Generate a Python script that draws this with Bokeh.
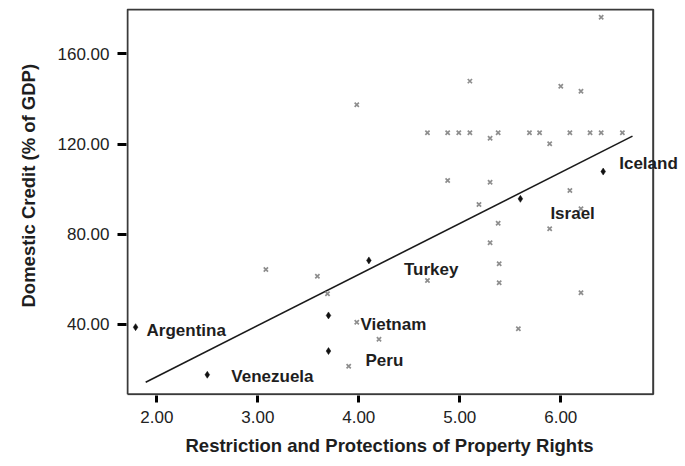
from bokeh.plotting import figure
from bokeh.models import ColumnDataSource, FixedTicker, NumeralTickFormatter, Range1d, Title
from bokeh.core.properties import value
from bokeh.embed import file_html
from bokeh.resources import INLINE

# --- data ---
# unlabeled countries (grey markers)
other_x = [3.98, 6.40, 5.10, 6.00, 6.20,
           4.68, 4.88, 4.99, 5.10, 5.38, 5.69, 5.79, 6.09, 6.29, 6.40, 6.61,
           5.30, 5.89, 4.88, 5.30, 6.09, 5.19, 5.38, 5.89, 6.20, 5.30,
           5.39, 5.39, 4.68, 6.20, 5.58, 3.08, 3.59, 3.69, 3.98, 4.20, 3.90]
other_y = [137.4, 176.2, 147.9, 145.6, 143.4,
           125.0, 125.0, 125.0, 125.0, 125.0, 125.0, 125.0, 125.0, 125.0, 125.0, 125.0,
           122.6, 120.1, 103.8, 103.1, 99.4, 93.2, 84.9, 82.4, 91.3, 76.2,
           66.9, 58.5, 59.5, 54.1, 38.1, 64.4, 61.4, 53.6, 41.0, 33.4, 21.5]

# labelled countries (black markers)
countries = ["Argentina", "Venezuela", "Vietnam", "Peru", "Turkey", "Israel", "Iceland"]
country_x = [1.79, 2.50, 3.70, 3.70, 4.10, 5.60, 6.42]
country_y = [38.8, 17.7, 44.0, 28.2, 68.4, 95.7, 107.8]

# fitted regression line end points
fit_x = [1.89, 6.71]
fit_y = [14.4, 123.5]

x_ticks = [2, 3, 4, 5, 6]
y_ticks = [40, 80, 120, 160]

x_title = "Restriction and Protections of Property Rights"
y_title = "Domestic Credit (% of GDP)"

# --- layout helpers (not data) ---
lab_dx = [11, 24, 32, 37, 35, 30, 16]
lab_dy = [3, 2, 9, 9, 9, 15, -8]
box_x0, box_x1 = 1.71, 6.915
box_y0, box_y1 = 9.0, 179.65

FONT = "Liberation Sans"

p = figure(width=684, height=466, output_backend="svg", toolbar_location=None,
           x_range=Range1d(1.70, 7.225), y_range=Range1d(8.5, 180.1),
           min_border_left=126, min_border_right=0, min_border_top=8, min_border_bottom=71)

p.grid.visible = False
p.background_fill_color = "white"
p.border_fill_color = "white"
p.outline_line_color = None

for ax in (p.xaxis[0], p.yaxis[0]):
    ax.axis_line_color = None
    ax.major_tick_in = 0
    ax.major_tick_line_width = 3
    ax.major_tick_line_color = "black"
    ax.minor_tick_line_color = None
    ax.major_label_text_font = FONT
    ax.major_label_text_font_size = "17px"
    ax.major_label_text_color = "#222222"
    ax.formatter = NumeralTickFormatter(format="0.00")

p.xaxis[0].ticker = FixedTicker(ticks=x_ticks)
p.yaxis[0].ticker = FixedTicker(ticks=y_ticks)
p.xaxis[0].major_tick_out = 7
p.yaxis[0].major_tick_out = 9
p.xaxis[0].major_label_standoff = 8
p.yaxis[0].major_label_standoff = 8

# plot box (frame) drawn as a line so that labels may spill past the right edge
p.line([box_x0, box_x1, box_x1, box_x0, box_x0], [box_y0, box_y0, box_y1, box_y1, box_y0],
       line_color="#3a3a3a", line_width=2)

# regression line
p.line(fit_x, fit_y, line_color="#1a1a1a", line_width=1.6)

# grey markers
p.scatter(other_x, other_y, marker="x", size=6, line_color="#8e8e8e", line_width=1.7)

# labelled markers
src = ColumnDataSource(dict(x=country_x, y=country_y, name=countries, dx=lab_dx, dy=lab_dy))
p.scatter("x", "y", source=src, marker="diamond", size=7, line_color="#111111",
          fill_color="#111111", line_width=0.5)
p.text("x", "y", text="name", source=src, x_offset="dx", y_offset="dy",
       text_font=value(FONT), text_font_style="bold", text_font_size="17px",
       text_color="#1e1e1e", text_align="left", text_baseline="middle")

# axis titles
p.add_layout(Title(text=x_title, align="left", offset=59, standoff=15,
                   text_font=FONT, text_font_style="bold", text_font_size="18.5px",
                   text_color="#1e1e1e"), "below")
p.add_layout(Title(text=y_title, align="left", offset=88, standoff=31,
                   text_font=FONT, text_font_style="bold", text_font_size="18.5px",
                   text_color="#1e1e1e"), "left")

open("out.html", "w").write(file_html(p, INLINE))
